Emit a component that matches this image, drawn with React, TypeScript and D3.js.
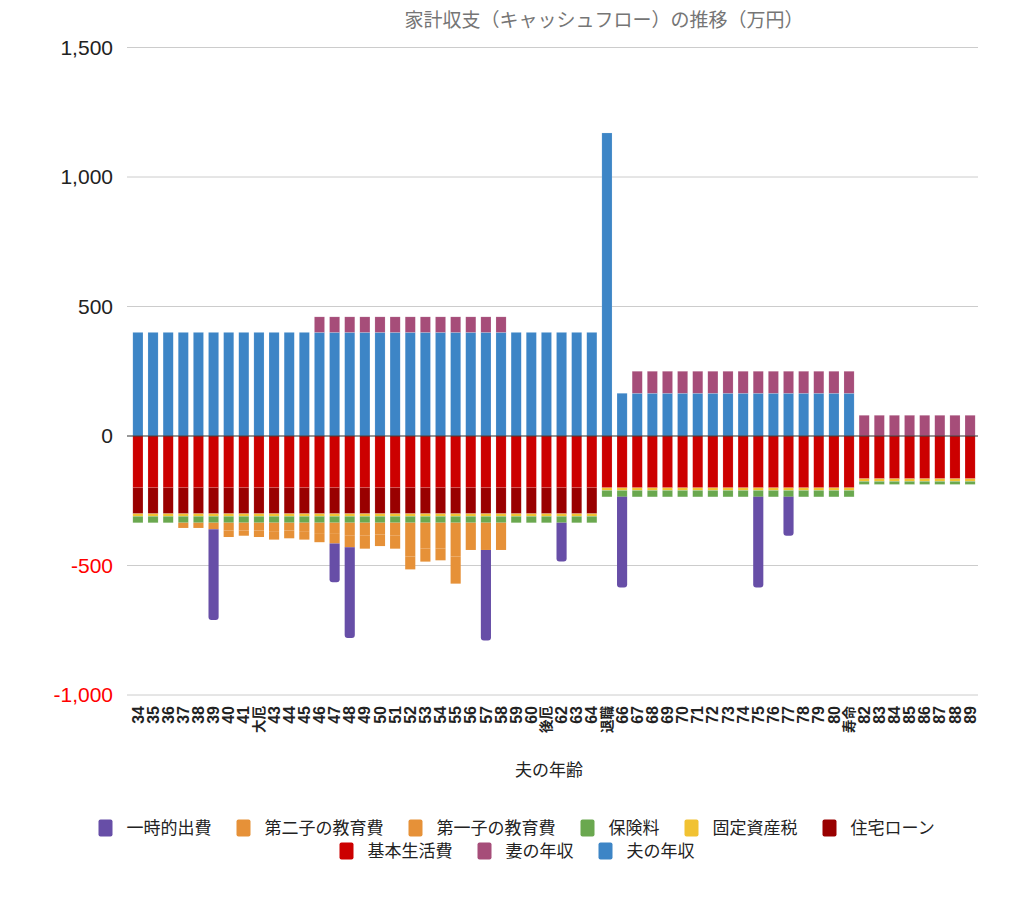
import React from "react";
import * as d3 from "d3";

const ages: string[] = [
  "34","35","36","37","38","39","40","41","大厄","43","44","45","46","47","48","49","50","51","52","53","54","55","56","57","58","59","60","後厄","62","63","64","退職",
  "66","67","68","69","70","71","72","73","74","75","76","77","78","79","80","寿命","82","83","84","85","86","87","88","89",
];

// 夫の年収
const husbandIncome: number[] = [
  400,400,400,400,400,400,400,400,400,400,400,400,400,400,400,400,400,400,400,400,400,400,400,400,400,400,400,400,400,400,400,1170,
  165,165,165,165,165,165,165,165,165,165,165,165,165,165,165,165,0,0,0,0,0,0,0,0,
];
// 妻の年収
const wifeIncome: number[] = [
  0,0,0,0,0,0,0,0,0,0,0,0,60,60,60,60,60,60,60,60,60,60,60,60,60,0,0,0,0,0,0,0,
  0,85,85,85,85,85,85,85,85,85,85,85,85,85,85,85,80,80,80,80,80,80,80,80,
];
// 基本生活費
const livingCost: number[] = [
  -200,-200,-200,-200,-200,-200,-200,-200,-200,-200,-200,-200,-200,-200,-200,-200,-200,-200,-200,-200,-200,-200,-200,-200,-200,-200,-200,-200,-200,-200,-200,-200,
  -200,-200,-200,-200,-200,-200,-200,-200,-200,-200,-200,-200,-200,-200,-200,-200,-165,-165,-165,-165,-165,-165,-165,-165,
];
// 住宅ローン
const housingLoan: number[] = [
  -100,-100,-100,-100,-100,-100,-100,-100,-100,-100,-100,-100,-100,-100,-100,-100,-100,-100,-100,-100,-100,-100,-100,-100,-100,-100,-100,-100,-100,-100,-100,0,
  0,0,0,0,0,0,0,0,0,0,0,0,0,0,0,0,0,0,0,0,0,0,0,0,
];
// 固定資産税
const propertyTax: number[] = [
  -10,-10,-10,-10,-10,-10,-10,-10,-10,-10,-10,-10,-10,-10,-10,-10,-10,-10,-10,-10,-10,-10,-10,-10,-10,-10,-10,-10,-10,-10,-10,-10,
  -10,-10,-10,-10,-10,-10,-10,-10,-10,-10,-10,-10,-10,-10,-10,-10,-10,-10,-10,-10,-10,-10,-10,-10,
];
// 保険料
const insurance: number[] = [
  -25,-25,-25,-25,-25,-25,-25,-25,-25,-25,-25,-25,-25,-25,-25,-25,-25,-25,-25,-25,-25,-25,-25,-25,-25,-25,-25,-25,-25,-25,-25,-25,
  -25,-25,-25,-25,-25,-25,-25,-25,-25,-25,-25,-25,-25,-25,-25,-25,-12,-12,-12,-12,-12,-12,-12,-12,
];
// 第一子の教育費
const edu1: number[] = [
  0,0,0,-20,-20,-25,-30,-30,-30,-35,-30,-35,-40,-40,-50,-50,-45,-50,-130,-100,-100,-130,0,0,0,0,0,0,0,0,0,0,
  0,0,0,0,0,0,0,0,0,0,0,0,0,0,0,0,0,0,0,0,0,0,0,0,
];
// 第二子の教育費
const edu2: number[] = [
  0,0,0,0,0,0,-25,-20,-25,-30,-30,-30,-35,-40,-45,-50,-45,-50,-50,-50,-45,-105,-105,-105,-105,0,0,0,0,0,0,0,
  0,0,0,0,0,0,0,0,0,0,0,0,0,0,0,0,0,0,0,0,0,0,0,0,
];
// 一時的出費
const tempCost: number[] = [
  0,0,0,0,0,-350,0,0,0,0,0,0,0,-150,-350,0,0,0,0,0,0,0,0,-350,0,0,0,0,-150,0,0,0,
  -350,0,0,0,0,0,0,0,0,-350,0,-150,0,0,0,0,0,0,0,0,0,0,0,0,
];

const yTicks: number[] = [-1000, -500, 0, 500, 1000, 1500];

const seriesKeys = ["husband", "wife", "living", "loan", "tax", "ins", "edu1", "edu2", "temp"];
const seriesColors: Record<string, string> = {
  husband: "#3d85c6",
  wife: "#a64d79",
  living: "#cc0000",
  loan: "#990000",
  tax: "#f1c232",
  ins: "#6aa84f",
  edu1: "#e69138",
  edu2: "#e69138",
  temp: "#674ea7",
};

const legendRow1 = [
  { key: "temp", label: "一時的出費" },
  { key: "edu2", label: "第二子の教育費" },
  { key: "edu1", label: "第一子の教育費" },
  { key: "ins", label: "保険料" },
  { key: "tax", label: "固定資産税" },
  { key: "loan", label: "住宅ローン" },
];
const legendRow2 = [
  { key: "living", label: "基本生活費" },
  { key: "wife", label: "妻の年収" },
  { key: "husband", label: "夫の年収" },
];

const title = "家計収支（キャッシュフロー）の推移（万円）";
const xTitle = "夫の年齢";

const LATIN = "'Liberation Sans', Arial, Helvetica, sans-serif";
const CJK = "'Noto Sans CJK JP', 'Noto Sans', sans-serif";

function roundedBottomRect(x: number, y0: number, y1: number, w: number, r: number): string {
  const h = y1 - y0;
  const rr = Math.min(r, h / 2, w / 2);
  return `M${x},${y0} H${x + w} V${y1 - rr} Q${x + w},${y1} ${x + w - rr},${y1} H${x + rr} Q${x},${y1} ${x},${y1 - rr} Z`;
}

const fmt = (t: number) => d3.format(",")(t).replace("\u2212", "-");

export default function App() {
  const width = 1024;
  const height = 899;

  const rows = ages.map((a, i) => ({
    age: a,
    husband: husbandIncome[i],
    wife: wifeIncome[i],
    living: livingCost[i],
    loan: housingLoan[i],
    tax: propertyTax[i],
    ins: insurance[i],
    edu1: edu1[i],
    edu2: edu2[i],
    temp: tempCost[i],
  }));

  const stack = d3.stack<any>().keys(seriesKeys).offset(d3.stackOffsetDiverging);
  const stacked = stack(rows);

  const x = d3.scaleBand<string>().domain(ages).range([128, 980]).paddingInner(0.33).paddingOuter(0.32);
  const y = d3.scaleLinear().domain([-1000, 1500]).range([695, 47.5]);

  const gridX0 = 127;
  const gridX1 = 978;

  const legendFont = 17;
  const swGap = 28;
  const itemGap = 25;
  const itemW = (label: string) => swGap + label.length * legendFont;
  const rowW = (items: { label: string }[]) =>
    items.reduce((s, it) => s + itemW(it.label), 0) + itemGap * (items.length - 1);
  const legendCx = 517;

  const renderLegendRow = (items: { key: string; label: string }[], cy: number) => {
    let cur = legendCx - rowW(items) / 2;
    return items.map((it) => {
      const x0 = cur;
      cur += itemW(it.label) + itemGap;
      return (
        <g key={it.key + it.label}>
          <rect x={x0} y={cy - 8.5} width={14} height={17} rx={2} fill={seriesColors[it.key]} />
          <text x={x0 + swGap} y={cy} dy="0.35em" fontSize={legendFont} fontFamily={CJK} fill="#222">
            {it.label}
          </text>
        </g>
      );
    });
  };

  return (
    <svg width={width} height={height} style={{ display: "block", position: "absolute", left: 0, top: 0 }}>
      <rect x={0} y={0} width={width} height={height} fill="#fff" />
      <text x={604} y={20} dy="0.35em" textAnchor="middle" fontSize={19} fontFamily={CJK} fill="#757575">
        {title}
      </text>
      {yTicks.map((t) => (
        <g key={t}>
          {t !== 0 && <line x1={gridX0} x2={gridX1} y1={y(t)} y2={y(t)} stroke="#cccccc" strokeWidth={1} />}
          <text
            x={113}
            y={y(t)}
            dy="0.35em"
            textAnchor="end"
            fontSize={21}
            fontFamily={LATIN}
            fill={t < 0 ? "#ff0000" : "#222"}
          >
            {fmt(t)}
          </text>
        </g>
      ))}
      {stacked.map((s) => (
        <g key={s.key}>
          {s.map((d: any, i: number) => {
            const v0 = d[0];
            const v1 = d[1];
            if (v0 === v1) return null;
            const top = y(Math.max(v0, v1));
            const bot = y(Math.min(v0, v1));
            const bx = x(ages[i]) as number;
            const bw = x.bandwidth();
            if (s.key === "temp") {
              return (
                <path key={i} d={roundedBottomRect(bx, top, bot, bw, 3)} fill={seriesColors[s.key]} />
              );
            }
            const isEdu = s.key === "edu1" || s.key === "edu2";
            return (
              <rect
                key={i}
                x={bx}
                y={top}
                width={bw}
                height={bot - top}
                fill={seriesColors[s.key]}
                stroke={isEdu ? "none" : "#ffffff"}
                strokeOpacity={0.3}
                strokeWidth={0.5}
              />
            );
          })}
        </g>
      ))}
      <line x1={gridX0} x2={gridX1} y1={y(0)} y2={y(0)} stroke="#333" strokeWidth={1} />
      {ages.map((a) => {
        const cx = (x(a) as number) + x.bandwidth() / 2;
        const isCjk = /[^\d]/.test(a);
        return (
          <text
            key={a}
            transform={`translate(${cx},706) rotate(-90)`}
            dy="0.35em"
            textAnchor="end"
            fontSize={isCjk ? 13.5 : 16}
            fontWeight="bold"
            fontFamily={isCjk ? CJK : LATIN}
            fill="#222"
          >
            {a}
          </text>
        );
      })}
      <text x={549} y={770} dy="0.35em" textAnchor="middle" fontSize={17} fontFamily={CJK} fill="#222">
        {xTitle}
      </text>
      {renderLegendRow(legendRow1, 828)}
      {renderLegendRow(legendRow2, 851)}
    </svg>
  );
}
